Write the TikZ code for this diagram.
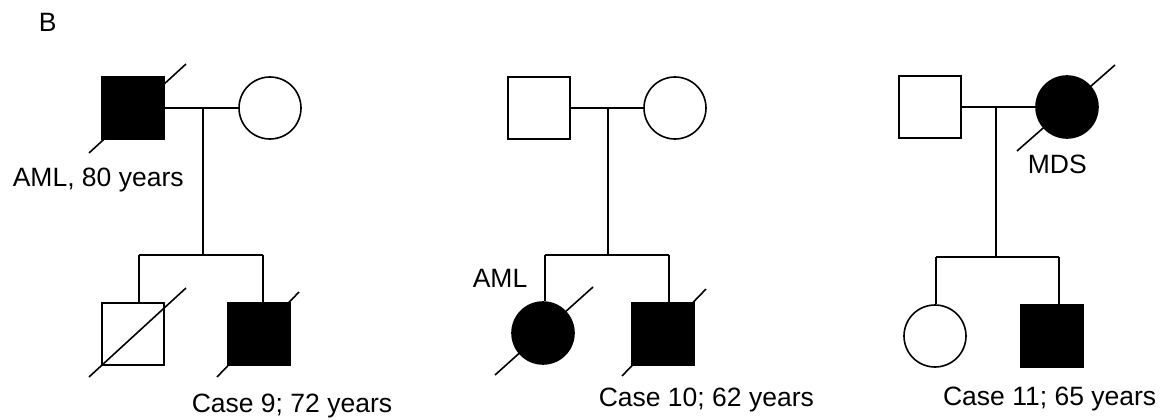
\documentclass[tikz,border=0pt]{standalone}
\usepackage{fontspec}
\setmainfont{Liberation Sans}
\usetikzlibrary{calc}
\begin{document}
\begin{tikzpicture}[x=1pt,y=-1pt,line width=1.6pt,
  sq/.style={draw,rectangle,minimum size=62pt,inner sep=0pt,fill=white},
  circ/.style={draw,circle,minimum size=62pt,inner sep=0pt,fill=white},
  aff/.style={fill=black},
  lbl/.style={font=\fontsize{26.5}{30}\selectfont,inner sep=0pt,anchor=base west}]
\useasboundingbox (0,0) rectangle (1163,420);
\node[lbl] (B) at (38,32) {B};
% ---------- family 1
\node[sq,aff] (f1) at (133,108) {};
\node[circ] (m1) at (270,108) {};
\node[sq] (c1a) at (133,334) {};
\node[sq,aff] (c1b) at (259,334) {};
\coordinate (d1) at (203,108);
\coordinate (s1) at (203,255);
\coordinate (s1L) at (139,255);
\coordinate (s1R) at (263,255);
\draw (f1.east) -- (m1.west);
\draw (d1) -- (s1);
\draw (s1L) -- (s1R);
\draw (s1L) -- (s1L |- c1a.north);
\draw (s1R) -- (s1R |- c1b.north);
\draw ($(f1.center)+(-44,45)$) -- ($(f1.center)+(53,-44)$);
\draw ($(c1a.center)+(-44,43)$) -- ($(c1a.center)+(53,-46)$);
\draw ($(c1b.center)+(-42,43)$) -- ($(c1b.center)+(40,-42)$);
\node[lbl] (t1) at (12,186) {AML, 80 years};
\node[lbl] (t2) at (191,412) {Case 9; 72 years};
% ---------- family 2
\node[sq] (f2) at (539,108) {};
\node[circ] (m2) at (675,108) {};
\node[circ,aff] (c2a) at (543,333) {};
\node[sq,aff] (c2b) at (663,334) {};
\coordinate (d2) at (608,108);
\coordinate (s2) at (608,255);
\coordinate (s2L) at (545,255);
\coordinate (s2R) at (669,255);
\draw (f2.east) -- (m2.west);
\draw (d2) -- (s2);
\draw (s2L) -- (s2R);
\draw (s2L) -- (s2L |- c2a.north);
\draw (s2R) -- (s2R |- c2b.north);
\draw ($(c2a.center)+(-48,42)$) -- ($(c2a.center)+(50,-46)$);
\draw ($(c2b.center)+(-41,42)$) -- ($(c2b.center)+(43,-45)$);
\node[lbl] (t3) at (472,287) {AML};
\node[lbl] (t4) at (598,406) {Case 10; 62 years};
% ---------- family 3
\node[sq] (f3) at (930,107) {};
\node[circ,aff] (m3) at (1067,107) {};
\node[circ] (c3a) at (935,336) {};
\node[sq,aff] (c3b) at (1052,336) {};
\coordinate (d3) at (996,107);
\coordinate (s3) at (996,257);
\coordinate (s3L) at (936,257);
\coordinate (s3R) at (1059,257);
\draw (f3.east) -- (m3.west);
\draw (d3) -- (s3);
\draw (s3L) -- (s3R);
\draw (s3L) -- (s3L |- c3a.north);
\draw (s3R) -- (s3R |- c3b.north);
\draw ($(m3.center)+(-50,44)$) -- ($(m3.center)+(48,-42)$);
\node[lbl] (t5) at (1027,173) {MDS};
\node[lbl,anchor=base east] (t6) at (1157,405) {Case 11; 65 years};
\end{tikzpicture}
\end{document}
